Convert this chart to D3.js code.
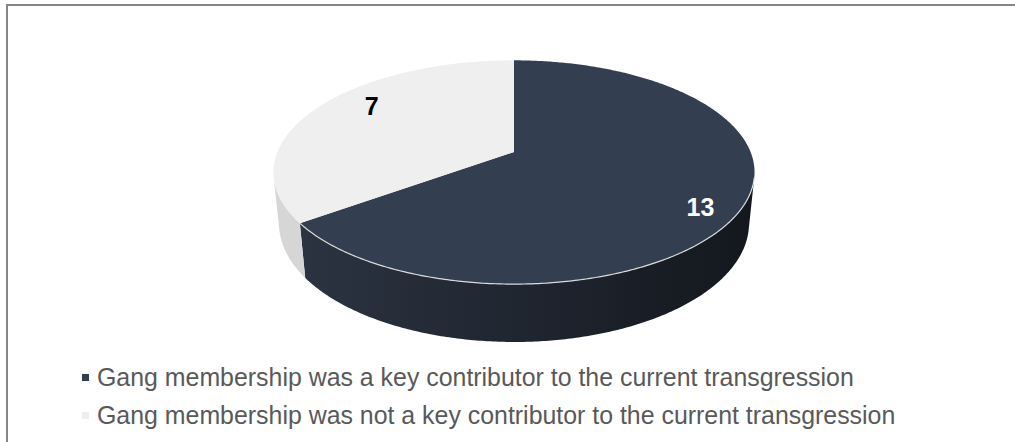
<!DOCTYPE html>
<html lang="en">
<head>
<meta charset="UTF-8">
<title>Gang membership pie</title>
<style>
    * { margin: 0; padding: 0; box-sizing: border-box; }
    body { background: #ffffff; width: 1015px; height: 442px; overflow: hidden; }
    .legend text { font-family: 'Liberation Sans', Arial, sans-serif; font-size: 24.9px; fill: #595959; }
    .label { font-family: 'Liberation Sans', Arial, sans-serif; font-size: 25px; font-weight: bold; }
</style>
</head>
<body>
<div id="chart"></div>
<script src="https://d3js.org/d3.v7.min.js"></script>
<script>
    const categories = [
        "Gang membership was a key contributor to the current transgression",
        "Gang membership was not a key contributor to the current transgression"
    ];
    const values = [13, 7];
    const topColors = ["#333f50", "#efefef"];
    const sideColors = [["#2c3442", "#13171d"], ["#d6d6d6", "#cfcfcf"]];
    const labelColors = ["#ffffff", "#000000"];

    const width = 1015, height = 442;

    // 3d view of the pie (camera tilted, with perspective)
    const cx = 514, cy = 152;
    const focal = 1164, dist = 4.92;
    const tilt = Math.asin(0.4575);
    const thick = 0.246;
    const sinT = Math.sin(tilt), cosT = Math.cos(tilt);
    // small shifts so labels sit where excel puts them
    const labelNudge = [[6, 13], [16, -9]];

    function project(theta, r, y) {
        const X = r * Math.sin(theta), Z = -r * Math.cos(theta);
        const yc = y * cosT - Z * sinT;
        const depth = dist - y * sinT - Z * cosT;
        return [cx + focal * X / depth, cy - focal * yc / depth];
    }

    function arcAngles(a0, a1) {
        const n = Math.max(2, Math.ceil((a1 - a0) / 0.01));
        return d3.range(n + 1).map(i => a0 + (a1 - a0) * i / n);
    }

    const svg = d3.select("#chart").append("svg")
        .attr("width", width)
        .attr("height", height);

    // outer frame
    svg.append("rect")
        .attr("x", 7).attr("y", 5)
        .attr("width", 1100).attr("height", 500)
        .attr("fill", "none")
        .attr("stroke", "#868686")
        .attr("stroke-width", 2);

    const defs = svg.append("defs");
    sideColors.forEach((c, i) => {
        const g = defs.append("linearGradient")
            .attr("id", "side" + i)
            .attr("gradientUnits", "userSpaceOnUse")
            .attr("x1", 290).attr("x2", 760)
            .attr("y1", 0).attr("y2", 0);
        g.append("stop").attr("offset", "0%").attr("stop-color", c[0]);
        g.append("stop").attr("offset", "100%").attr("stop-color", c[1]);
    });

    const pie = d3.pie().sort(null).startAngle(0).endAngle(2 * Math.PI);
    const arcs = pie(values);
    const line = d3.line();

    // silhouette of the side wall seen from the camera
    const camZ = dist * cosT;
    const silBeta = Math.acos(1 / camZ);
    const visFrom = Math.PI - silBeta, visTo = Math.PI + silBeta;

    const pieG = svg.append("g");

    // side walls (front part only)
    arcs.forEach((d, i) => {
        const a0 = Math.max(d.startAngle, visFrom), a1 = Math.min(d.endAngle, visTo);
        if (a1 <= a0) return;
        const angs = arcAngles(a0, a1);
        const pts = angs.map(a => project(a, 1, 0))
            .concat(angs.slice().reverse().map(a => project(a, 1, -thick)));
        pieG.append("path")
            .attr("d", line(pts) + "Z")
            .attr("fill", `url(#side${i})`);
    });

    // top faces
    arcs.forEach((d, i) => {
        const pts = [project(0, 0, 0)].concat(arcAngles(d.startAngle, d.endAngle).map(a => project(a, 1, 0)));
        pieG.append("path")
            .attr("d", line(pts) + "Z")
            .attr("fill", topColors[i]);
    });

    // light rim along the front edge of the dark slice
    arcs.slice(0, 1).forEach(d => {
        const a0 = Math.max(d.startAngle, visFrom), a1 = Math.min(d.endAngle, visTo);
        pieG.append("path")
            .attr("d", line(arcAngles(a0, a1).map(a => project(a, 1, 0))))
            .attr("fill", "none")
            .attr("stroke", "#d9d9d9")
            .attr("stroke-width", 1.2);
    });

    // data labels
    arcs.forEach((d, i) => {
        const p = project((d.startAngle + d.endAngle) / 2, 0.8, 0);
        pieG.append("text")
            .attr("class", "label")
            .attr("x", p[0] + labelNudge[i][0]).attr("y", p[1] + labelNudge[i][1])
            .attr("dy", "0.35em")
            .attr("text-anchor", "middle")
            .attr("fill", labelColors[i])
            .text(values[i]);
    });

    // legend
    const legend = svg.append("g").attr("class", "legend")
        .attr("transform", "translate(82,378)");
    const item = legend.selectAll("g")
        .data(categories)
        .enter().append("g")
        .attr("transform", (d, i) => `translate(0,${i * 38})`);
    item.append("rect")
        .attr("x", 0).attr("y", -4)
        .attr("width", 7).attr("height", 7)
        .attr("fill", (d, i) => topColors[i]);
    item.append("text")
        .attr("x", 15).attr("y", 7.5)
        .text(d => d);
</script>
</body>
</html>
